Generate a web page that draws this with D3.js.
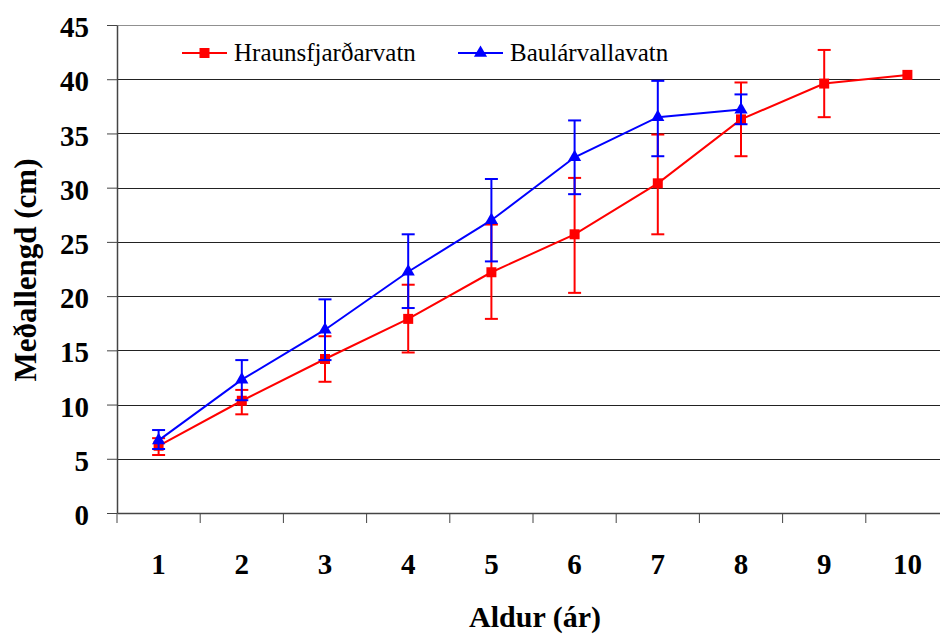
<!DOCTYPE html>
<html>
<head>
<meta charset="utf-8">
<script src="https://cdn.jsdelivr.net/npm/d3@7"></script>
<style>
  body { margin: 0; background: #fff; }
</style>
</head>
<body>
<div id="chart"></div>
<script>
// ages (x categories)
const ages = [1, 2, 3, 4, 5, 6, 7, 8, 9, 10];

// Hraunsfjarðarvatn: mean length and error bar ends (cm)
const hraunMean = [6.2, 10.35, 14.2, 17.9, 22.2, 25.7, 30.4, 36.3, 39.6, 40.4];
const hraunLow  = [5.35, 9.1, 12.1, 14.8, 17.9, 20.3, 25.7, 32.9, 36.5, null];
const hraunHigh = [6.9, 11.35, 16.3, 21.05, 26.6, 30.9, 34.9, 39.7, 42.7, null];

// Baulárvallavatn
const baulMean = [6.7, 12.3, 16.9, 22.25, 27.0, 32.8, 36.5, 37.2];
const baulLow  = [5.9, 10.4, 14.1, 18.9, 23.2, 29.4, 32.9, 35.85];
const baulHigh = [7.65, 14.1, 19.7, 25.7, 30.8, 36.2, 39.85, 38.6];

const yTicks = [0, 5, 10, 15, 20, 25, 30, 35, 40, 45];

const FONT = '"Liberation Serif", "Times New Roman", serif';
const W = 940, H = 635;
const mLeft = 117, mTop = 25, mBottom = 513, mRight = 949;

const svg = d3.select("#chart").append("svg")
  .attr("width", W).attr("height", H);

const x = d3.scaleBand().domain(ages).range([mLeft, mRight]);
const y = d3.scaleLinear().domain([0, 45]).range([mBottom, mTop]);

// gridlines
svg.append("g").selectAll("line")
  .data(yTicks.filter(d => d > 0))
  .join("line")
  .attr("x1", mLeft).attr("x2", W)
  .attr("y1", d => Math.round(y(d)) + 0.5).attr("y2", d => Math.round(y(d)) + 0.5)
  .attr("stroke", d => d === 45 ? "#909090" : "#222")
  .attr("stroke-width", 1);

// y axis
const yAxis = svg.append("g")
  .attr("transform", `translate(${mLeft},0)`)
  .call(d3.axisLeft(y).tickValues(yTicks).tickSize(10).tickPadding(18).tickSizeOuter(0))
  .attr("font-family", null);
yAxis.select(".domain").attr("stroke", "#444").attr("stroke-width", 1.5);
yAxis.selectAll(".tick line").attr("stroke", "#444");
yAxis.selectAll(".tick text")
  .attr("font-size", 29).attr("font-weight", "bold").attr("fill", "#000")
  .attr("dy", "0.4em")
  .style("font-family", FONT);

// x axis
const xAxis = svg.append("g")
  .attr("transform", `translate(0,${mBottom})`)
  .call(d3.axisBottom(x).tickSize(0).tickSizeOuter(0))
  .attr("font-family", null);
xAxis.select(".domain").attr("stroke", "#444").attr("stroke-width", 1.5);
xAxis.selectAll(".tick text")
  .attr("y", 61).attr("dy", null)
  .attr("font-size", 29).attr("font-weight", "bold").attr("fill", "#000")
  .style("font-family", FONT);
// tick marks at category boundaries
xAxis.append("g").selectAll("line")
  .data(ages)
  .join("line")
  .attr("x1", d => x(d)).attr("x2", d => x(d))
  .attr("y1", 0).attr("y2", 10)
  .attr("stroke", "#444");

// axis titles
svg.append("text")
  .attr("x", 535).attr("y", 627)
  .attr("text-anchor", "middle")
  .attr("font-size", 30).attr("font-weight", "bold")
  .style("font-family", FONT)
  .text("Aldur (ár)");

svg.append("text")
  .attr("transform", `translate(36,270) rotate(-90)`)
  .attr("text-anchor", "middle")
  .attr("font-size", 31).attr("font-weight", "bold")
  .style("font-family", FONT)
  .text("Meðallengd (cm)");

const cx = d => x(d) + x.bandwidth() / 2;

function drawSeries(mean, low, high, color, shape) {
  const pts = mean.map((m, i) => ({ age: ages[i], m, lo: low[i], hi: high[i] }));
  const g = svg.append("g");

  const bars = pts.filter(p => p.lo != null);
  g.selectAll("line.err").data(bars).join("line")
    .attr("x1", p => cx(p.age)).attr("x2", p => cx(p.age))
    .attr("y1", p => y(p.lo)).attr("y2", p => y(p.hi))
    .attr("stroke", color).attr("stroke-width", 2);
  ["lo", "hi"].forEach(k => {
    g.selectAll("line.cap" + k).data(bars).join("line")
      .attr("x1", p => cx(p.age) - 6.5).attr("x2", p => cx(p.age) + 6.5)
      .attr("y1", p => y(p[k])).attr("y2", p => y(p[k]))
      .attr("stroke", color).attr("stroke-width", 2);
  });

  g.append("path")
    .datum(pts)
    .attr("d", d3.line().x(p => cx(p.age)).y(p => y(p.m)))
    .attr("fill", "none").attr("stroke", color).attr("stroke-width", 2);

  const sym = d3.symbol().type(shape).size(shape === d3.symbolSquare ? 100 : 75);
  g.selectAll("path.mk").data(pts).join("path")
    .attr("transform", p => `translate(${cx(p.age)},${y(p.m)})`)
    .attr("d", sym)
    .attr("fill", color);
}

drawSeries(hraunMean, hraunLow, hraunHigh, "#ff0000", d3.symbolSquare);
drawSeries(baulMean, baulLow, baulHigh, "#0000ff", d3.symbolTriangle);

// legend
const legend = [
  { name: "Hraunsfjarðarvatn", color: "#ff0000", shape: d3.symbolSquare, x: 182 },
  { name: "Baulárvallavatn", color: "#0000ff", shape: d3.symbolTriangle, x: 458 }
];
const lg = svg.append("g").selectAll("g").data(legend).join("g")
  .attr("transform", d => `translate(${d.x},53)`);
lg.append("line").attr("x1", 0).attr("x2", 45).attr("y1", 0).attr("y2", 0)
  .attr("stroke", d => d.color).attr("stroke-width", 2);
lg.append("path")
  .attr("transform", "translate(22.5,0)")
  .attr("d", d => d3.symbol().type(d.shape).size(d.shape === d3.symbolSquare ? 100 : 75)())
  .attr("fill", d => d.color);
lg.append("text").attr("x", 52).attr("y", 8)
  .attr("font-size", 25).attr("fill", "#000")
  .style("font-family", FONT)
  .text(d => d.name);
</script>
</body>
</html>
